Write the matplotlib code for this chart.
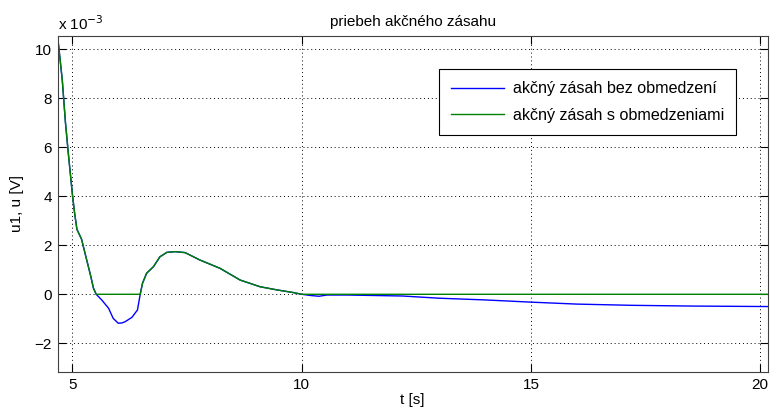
import numpy as np
import matplotlib.pyplot as plt

# values in units of 1e-3 V
t_down = [4.68, 4.78, 4.85, 4.92, 5.00, 5.05, 5.10, 5.20, 5.30, 5.40, 5.46, 5.52]
u_down = [10.5, 8.75, 7.0, 5.6, 4.1, 3.3, 2.65, 2.25, 1.5, 0.75, 0.25, 0.0]

# unconstrained dip below zero
t_dip = [5.52, 5.64, 5.79, 5.89, 6.00, 6.08, 6.15, 6.30, 6.42, 6.48]
u_dip = [0.0, -0.23, -0.57, -0.98, -1.18, -1.17, -1.12, -0.94, -0.64, 0.0]

# constrained version stays at zero
t_flat = [5.52, 6.48]
u_flat = [0.0, 0.0]

t_rise = [6.48, 6.53, 6.62, 6.77, 6.91, 7.06, 7.24, 7.46, 7.78, 8.22, 8.66, 9.09, 9.46, 9.82, 10.0]
u_rise = [0.0, 0.45, 0.86, 1.13, 1.53, 1.71, 1.74, 1.70, 1.40, 1.06, 0.58, 0.31, 0.18, 0.07, 0.0]

t_tail_b = [10.0, 10.2, 10.38, 10.55, 11.0, 12.2, 13.0, 14.0, 15.0, 16.0, 17.2, 18.5, 20.16]
u_tail_b = [0.0, -0.05, -0.08, -0.03, -0.03, -0.07, -0.16, -0.23, -0.32, -0.40, -0.45, -0.48, -0.50]

t_tail_g = [10.0, 20.16]
u_tail_g = [0.0, 0.0]

t_blue = np.concatenate([t_down, t_dip[1:], t_rise[1:], t_tail_b[1:]])
u_blue = np.concatenate([u_down, u_dip[1:], u_rise[1:], u_tail_b[1:]])
t_green = np.concatenate([t_down, t_flat[1:], t_rise[1:], t_tail_g[1:]])
u_green = np.concatenate([u_down, u_flat[1:], u_rise[1:], u_tail_g[1:]])

plt.rcParams['font.family'] = ['Liberation Sans', 'DejaVu Sans']
plt.rcParams['font.size'] = 11

fig = plt.figure(figsize=(7.71, 4.19), dpi=100)
ax = fig.add_axes([0.0748, 0.1122, 0.9207, 0.802])

ax.plot(t_blue, u_blue, color=(0, 0, 1), lw=1, label='akčný zásah bez obmedzení')
ax.plot(t_green, u_green, color=(0, 0.5, 0), lw=1, label='akčný zásah s obmedzeniami')

ax.set_xlim(4.68, 20.16)
ax.set_ylim(-3.17, 10.54)
ax.set_xticks([5, 10, 15, 20])
ax.set_yticks([-2, 0, 2, 4, 6, 8, 10])
ax.grid(True, linestyle=(0, (1, 3)), color='black', linewidth=0.7)
ax.tick_params(direction='in', length=6, width=0.8, top=True, right=True, pad=4)
for s in ax.spines.values():
    s.set_color('#404040')
    s.set_linewidth(0.8)

ax.set_title('priebeh akčného zásahu', fontsize=11, pad=7)
ax.set_xlabel('t [s]', labelpad=1)
ax.set_ylabel('u1, u [V]', labelpad=8)
ax.text(0.0, 1.01, r'x 10$^{-3}$', transform=ax.transAxes, fontsize=11, va='bottom', ha='left')

leg = ax.legend(loc='upper right', bbox_to_anchor=(0.9556, 0.901), fancybox=False,
                edgecolor='black', framealpha=1, fontsize=11.6, handlelength=3.3,
                labelspacing=0.7, borderpad=0.75, handletextpad=0.5, borderaxespad=0)
leg.get_frame().set_linewidth(0.8)

fig.savefig('out.png', dpi=100)
